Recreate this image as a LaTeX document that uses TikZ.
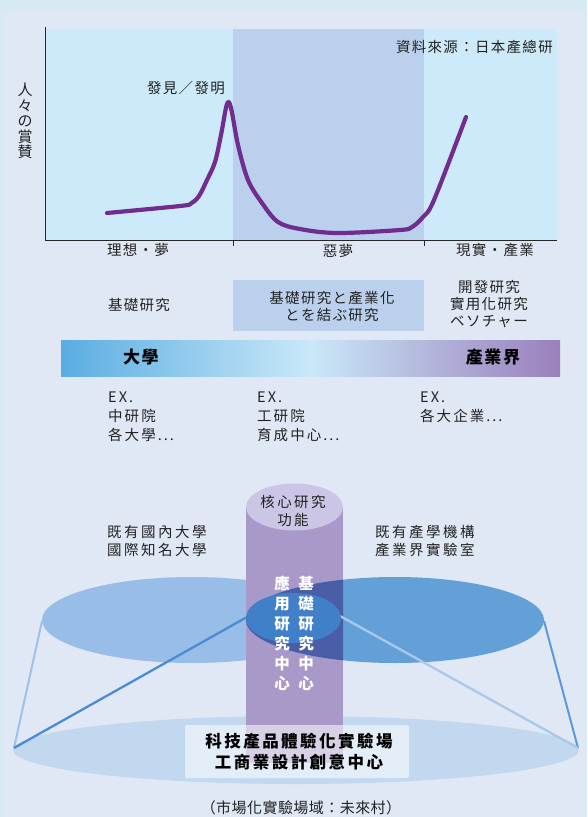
\documentclass[tikz,border=0pt]{standalone}
\usepackage{fontspec}
\setmainfont{Noto Sans CJK TC}
\newfontfamily\cjkA[LetterSpace=9]{Noto Sans CJK TC}
\newfontfamily\cjkB[LetterSpace=17]{Noto Sans CJK TC}
\newfontfamily\cjkC[LetterSpace=14]{Noto Sans CJK TC}
\newfontfamily\cjkD[LetterSpace=15]{Noto Sans CJK TC}
\newfontfamily\cjkE[LetterSpace=3]{Noto Sans CJK TC}
\definecolor{outerbg}{HTML}{D7EAF4}
\definecolor{panelbg}{HTML}{E0E8F5}
\definecolor{chartlt}{HTML}{CDEAFA}
\definecolor{chartmd}{HTML}{BBD0EC}
\definecolor{curvec}{HTML}{702C8F}
\definecolor{gradl}{HTML}{5AADE2}
\definecolor{gradm}{HTML}{C9E8F8}
\definecolor{gradr}{HTML}{9A7FBC}
\definecolor{colbody}{HTML}{A999C9}
\definecolor{coltop}{HTML}{CBC6E6}
\definecolor{lellc}{HTML}{98BDE6}
\definecolor{rellc}{HTML}{64A0D8}
\definecolor{rellcol}{HTML}{4A5EA8}
\definecolor{smellc}{HTML}{3F80C8}
\definecolor{lineol}{HTML}{9CC2EA}
\definecolor{lineil}{HTML}{4A8CD4}
\definecolor{lineir}{HTML}{A9C9EC}
\definecolor{lineor}{HTML}{5B99DA}
\definecolor{botell}{HTML}{C2D8EF}
\definecolor{txtc}{HTML}{222222}
\tikzset{
  txt/.style={text=txtc, inner sep=0pt, font=\cjkA\fontsize{14.5}{17}\selectfont},
  txtwide/.style={text=txtc, inner sep=0pt, font=\cjkB\fontsize{14.5}{18}\selectfont},
  txtex/.style={text=txtc, inner sep=0pt, align=left, font=\cjkC\fontsize{14.5}{19}\selectfont},
  boldlbl/.style={text=black, inner sep=0pt, font=\cjkA\bfseries\fontsize{17}{20}\selectfont},
  boxtxt/.style={text=black, inner sep=0pt, align=center, font=\cjkD\bfseries\fontsize{16.5}{21}\selectfont},
  coltxt/.style={text=white, inner sep=0pt, align=center, font=\bfseries\fontsize{15.5}{20}\selectfont},
  curve/.style={draw=curvec, line width=4.2pt, line cap=round, line join=round},
  axis/.style={draw=black!85, line width=0.9pt},
}
\begin{document}
\begin{tikzpicture}[x=1pt,y=-1pt]
\useasboundingbox (0,0) rectangle (587,817);
% backgrounds
\fill[outerbg] (0,0) rectangle (587,817);
\fill[panelbg] (3,12) rectangle (587,817);
% chart
\fill[chartlt] (46,29) rectangle (557,240);
\fill[chartmd] (233,29) rectangle (424,240);
\draw[axis] (45,27) -- (45,240) -- (557,240);
\draw[axis] (233,240) -- (233,246);
\draw[axis] (424,240) -- (424,246);
\draw[curve] plot[smooth, tension=0.55] coordinates {(107,213) (180,206) (191,203.5) (199,196) (207,180) (215,162) (221,135) (227,104) (231,108) (238,145) (248,180) (262,203) (278,222) (300,229) (337,233) (400,230) (412,227) (423,217) (434,200) (466,117)};
\node[txt, align=center, font=\fontsize{15}{15.5}\selectfont] (ylab) at (25,121) {人\\々\\の\\賞\\賛};
\node[txt] (peak) at (186,88) {發見／發明};
\node[txt, anchor=east] (src) at (553,47) {資料來源：日本產總研};
\node[txt] (lab1) at (138,250) {理想・夢};
\node[txt] (lab2) at (338,251) {惡夢};
\node[txt] (lab3) at (495,250) {現實・產業};
% second row
\fill[chartmd] (233,280) rectangle (424,331);
\node[txt] (basic) at (139,305) {基礎研究};
\node[txt, align=center] (link) at (332,306) {基礎研究と產業化\\とを結ぶ研究};
\node[txt, align=center] (dev) at (489,304) {開發研究\\實用化研究\\ベソチャー};
% gradient bar
\shade[left color=gradl, right color=gradr, middle color=gradm] (61,340) rectangle (560,376);
\node[boldlbl] (univ) at (141,357) {大學};
\node[boldlbl] (ind) at (493,357) {產業界};
% examples
\node[txtex, anchor=west] (ex1) at (108,417) {EX.\\中研院\\各大學...};
\node[txtex, anchor=west] (ex2) at (257,417) {EX.\\工研院\\育成中心...};
\node[txtex, anchor=west] (ex3) at (420,407) {EX.\\各大企業...};
% bottom diagram
\fill[botell] (296,750) ellipse [x radius=283, y radius=34];
\fill[lellc] (192,620) ellipse [x radius=150, y radius=43];
\fill[colbody] (246,507) rectangle (343,763);
\fill[coltop] (294.5,507) ellipse [x radius=48.5, y radius=23.5];
\fill[rellc] (395,620) ellipse [x radius=149, y radius=43];
\begin{scope}
  \clip (246,507) rectangle (343,763);
  \fill[rellcol] (395,620) ellipse [x radius=149, y radius=43];
\end{scope}
\coordinate (lo) at (42,621);
\coordinate (ro) at (544,621);
\coordinate (bl) at (14,748);
\coordinate (br) at (578,748);
\coordinate (li) at (247,617);
\coordinate (ri) at (340,616);
\draw[lineol, line width=2pt] (lo) -- (bl);
\draw[lineor, line width=2pt] (ro) -- (br);
\draw[lineil, line width=2.3pt] (li) -- (bl);
\draw[lineir, line width=2.3pt] (ri) -- (br);
\fill[smellc] (293.5,618) ellipse [x radius=47.5, y radius=25];
\node[coltxt] (appl) at (282,633) {應\\用\\研\\究\\中\\心};
\node[coltxt] (basc) at (306,633) {基\\礎\\研\\究\\中\\心};
\node[txtwide, align=center] (core) at (293,511) {核心研究\\功能};
\node[txtwide, align=left, anchor=west] (uni2) at (107,541) {既有國內大學\\國際知名大學};
\node[txtwide, align=left, anchor=west] (ind2) at (375,541) {既有產學機構\\產業界實驗室};
\fill[white, fill opacity=0.55, rounded corners=2pt] (185,725) rectangle (409,778);
\node[boxtxt] (lab) at (299,752) {科技產品體驗化實驗場\\工商業設計創意中心};
\node[txt, font=\cjkE\fontsize{15}{17}\selectfont] (market) at (301,808) {（市場化實驗場域：未來村）};
\end{tikzpicture}
\end{document}
